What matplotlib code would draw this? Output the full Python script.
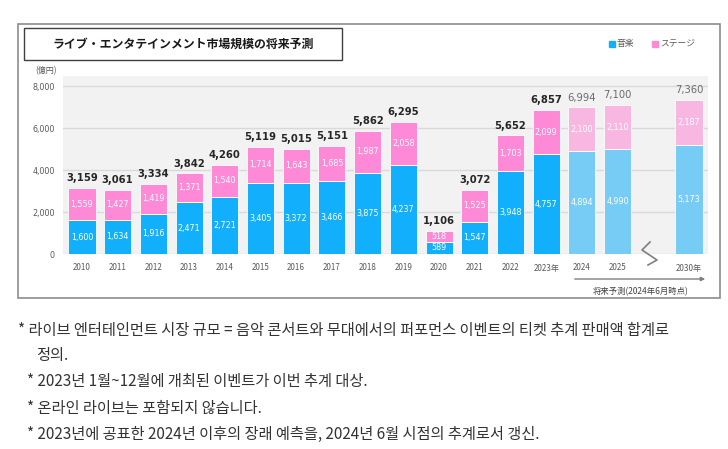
import matplotlib
matplotlib.use("Agg")
import matplotlib.pyplot as plt
from matplotlib.patches import Rectangle, FancyArrowPatch
from matplotlib.lines import Line2D

years = ["2010", "2011", "2012", "2013", "2014", "2015", "2016", "2017", "2018",
         "2019", "2020", "2021", "2022", "2023年", "2024", "2025", "2030年"]
music = [1600, 1634, 1916, 2471, 2721, 3405, 3372, 3466, 3875, 4237, 589, 1547,
         3948, 4757, 4894, 4990, 5173]
stage = [1559, 1427, 1419, 1371, 1540, 1714, 1643, 1685, 1987, 2058, 518, 1525,
         1703, 2099, 2100, 2110, 2187]
totals = [3159, 3061, 3334, 3842, 4260, 5119, 5015, 5151, 5862, 6295, 1106, 3072,
          5652, 6857, 6994, 7100, 7360]
forecast = [False] * 14 + [True] * 3
yticks = [0, 2000, 4000, 6000, 8000]
title = "ライブ・エンタテインメント市場規模の将来予測"
legend_labels = ["音楽", "ステージ"]
unit_label = "(億円)"
forecast_label = "将来予測(2024年6月時点)"
notes = [
    "* 라이브 엔터테인먼트 시장 규모 = 음악 콘서트와 무대에서의 퍼포먼스 이벤트의 티켓 추계 판매액 합계로",
    "정의.",
    "* 2023년 1월~12월에 개최된 이벤트가 이번 추계 대상.",
    "* 온라인 라이브는 포함되지 않습니다.",
    "* 2023년에 공표한 2024년 이후의 장래 예측을, 2024년 6월 시점의 추계로서 갱신.",
]

W, H = 728, 449
JP = ["Noto Sans CJK JP", "DejaVu Sans"]
KR = ["Noto Sans CJK KR", "DejaVu Sans"]

C_MUSIC = "#12b0fc"
C_STAGE = "#fe89d7"
C_MUSIC_F = "#77ccf6"
C_STAGE_F = "#f8b7e1"

fig = plt.figure(figsize=(W / 100, H / 100), dpi=100)
fig.patch.set_facecolor("white")


def fx(x):
    return x / W


def fy(y):
    return 1 - y / H


# outer frame
fig.patches.append(Rectangle((fx(18), fy(298)), fx(720) - fx(18), fy(24) - fy(298),
                             transform=fig.transFigure, fill=False,
                             edgecolor="#8c8c8c", lw=1.2))
# title box
fig.patches.append(Rectangle((fx(24), fy(60)), fx(342) - fx(24), fy(28) - fy(60),
                             transform=fig.transFigure, fill=False,
                             edgecolor="#404040", lw=1.0))
fig.text(fx(183), fy(44.5), title, ha="center", va="center", fontsize=8.6,
         fontweight="bold", family=JP, color="#1a1a1a")

# legend
fig.patches.append(Rectangle((fx(609), fy(46.5)), fx(6) - fx(0), fy(0) - fy(6),
                             transform=fig.transFigure, color=C_MUSIC))
fig.text(fx(617), fy(43.5), legend_labels[0], ha="left", va="center", fontsize=6.3,
         family=JP, color="#595959")
fig.patches.append(Rectangle((fx(652), fy(46.5)), fx(6) - fx(0), fy(0) - fy(6),
                             transform=fig.transFigure, color=C_STAGE))
fig.text(fx(660), fy(43.5), legend_labels[1], ha="left", va="center", fontsize=6.3,
         family=JP, color="#595959")

# axes
ax = fig.add_axes([fx(63), fy(254), fx(708) - fx(63), fy(76) - fy(254)])
ax.set_facecolor("#f2f2f2")
ax.set_xlim(-0.53, 17.53)
ax.set_ylim(0, 8480)
for s in ax.spines.values():
    s.set_visible(False)
for t in yticks:
    ax.axhline(t, color="#d9d9d9", lw=1.0, zorder=1)
ax.set_yticks(yticks)
ax.set_yticklabels([f"{v:,}" for v in yticks], fontsize=5.8, color="#595959")
ax.tick_params(axis="y", length=0, pad=6)
ax.set_xticks([])

positions = [i if i < 16 else 17 for i in range(len(years))]
bw = 0.76
for i, x in enumerate(positions):
    f = forecast[i]
    cm = C_MUSIC_F if f else C_MUSIC
    cs = C_STAGE_F if f else C_STAGE
    ax.bar(x, music[i], bw, color=cm, edgecolor="white", lw=0.6, zorder=2)
    ax.bar(x, stage[i], bw, bottom=music[i], color=cs, edgecolor="white", lw=0.6, zorder=2)
    ax.text(x, music[i] / 2, f"{music[i]:,}", ha="center", va="center",
            fontsize=5.8, color="white", zorder=3)
    ax.text(x, music[i] + stage[i] / 2, f"{stage[i]:,}", ha="center", va="center",
            fontsize=5.8, color="white", zorder=3)
    ax.text(x, totals[i] + 220, f"{totals[i]:,}", ha="center", va="bottom",
            fontsize=7.2, fontweight="normal" if f else "bold",
            color="#6b6b6b" if f else "#262626", zorder=3)
    ax.text(x, -430 if not years[i].endswith("年") else -470, years[i], ha="center",
            va="top", fontsize=5.8, color="#595959", family=JP, clip_on=False)

# y unit label
fig.text(fx(46), fy(71), unit_label, ha="center", va="center", fontsize=5.8,
         color="#595959", family=JP)

# squiggle break mark
sx = [650, 642, 657, 648]
sy = [242, 250, 260, 265]
sq = Line2D([fx(v) for v in sx], [fy(v) for v in sy],
            transform=fig.transFigure, color="#7f7f7f", lw=1.2, zorder=10)
fig.add_artist(sq)

# forecast arrow
fig.add_artist(FancyArrowPatch(
    (fx(572), fy(279)), (fx(708), fy(279)), transform=fig.transFigure,
    arrowstyle="-|>", mutation_scale=6, color="#7f7f7f", lw=1.0))
fig.text(fx(641), fy(292), forecast_label, ha="center", va="center", fontsize=6.0,
         color="#404040", family=JP)

# notes
note_pos = [(18, 330), (36, 355.5), (27, 381.5), (27, 408), (27, 434)]
for (nx, ny), txt in zip(note_pos, notes):
    fig.text(fx(nx), fy(ny), txt, ha="left", va="center", fontsize=11.0,
             color="#333333", family=KR)

fig.savefig("out.png", dpi=100)
